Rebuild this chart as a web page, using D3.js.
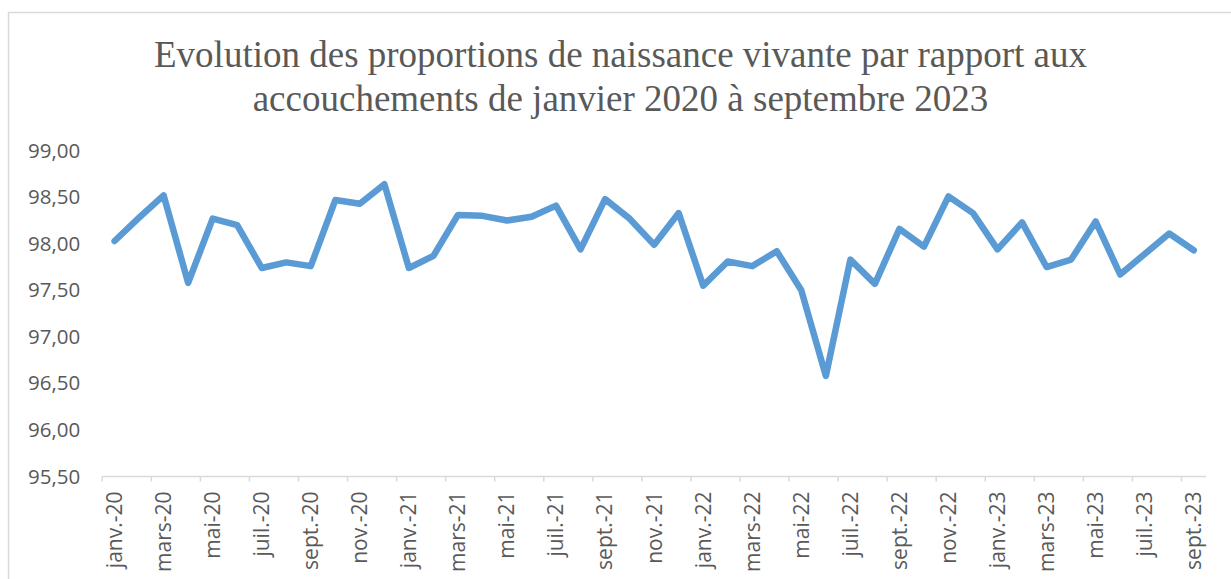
<!DOCTYPE html>
<html>
<head>
<meta charset="utf-8">
<script src="https://cdn.jsdelivr.net/npm/d3@7"></script>
<style>
  body { margin: 0; background: #fff; }
</style>
</head>
<body>
<div id="chart"></div>
<script>
// mois affichés (un sur deux porte une étiquette)
const months = ["janv.", "févr.", "mars", "avr.", "mai", "juin", "juil.", "août", "sept.", "oct.", "nov.", "déc."];
const years = ["20", "21", "22", "23"];
const categories = [];
years.forEach(y => months.forEach(m => categories.push(`${m}-${y}`)));
categories.length = 45; // janv.-20 -> sept.-23

// proportions (%)
const values = [
    98.03, 98.28, 98.52, 97.58, 98.27, 98.20, 97.74, 97.80, 97.76, 98.47, 98.43, 98.64,
    97.74, 97.87, 98.31, 98.30, 98.25, 98.29, 98.41, 97.94, 98.48, 98.27, 97.99, 98.33,
    97.55, 97.81, 97.76, 97.92, 97.50, 96.58, 97.83, 97.57, 98.16, 97.97, 98.51, 98.33,
    97.94, 98.23, 97.75, 97.83, 98.24, 97.67, 97.89, 98.11, 97.93
];
const yTicks = [95.5, 96, 96.5, 97, 97.5, 98, 98.5, 99];
const titleLines = [
    "Evolution des proportions de naissance vivante par rapport aux",
    "accouchements de janvier 2020 à septembre 2023"
];

const width = 1231, height = 579;
const plotLeft = 102.3, plotRight = 1206, plotTop = 150.7, plotBottom = 476.5;
const textColor = "#595959";

const svg = d3.select("#chart").append("svg")
    .attr("width", width)
    .attr("height", height);

// cadre du graphique
svg.append("rect")
    .attr("x", 8.5).attr("y", 12.5)
    .attr("width", 1260).attr("height", 620)
    .attr("fill", "#fff")
    .attr("stroke", "#d9d9d9")
    .attr("stroke-width", 1.5);

// titre
svg.append("g").selectAll("text")
    .data(titleLines)
    .enter().append("text")
    .attr("x", 620.5)
    .attr("y", (d, i) => 67 + i * 43.5)
    .attr("text-anchor", "middle")
    .attr("font-family", "'Liberation Serif', 'Times New Roman', serif")
    .attr("font-size", 37)
    .attr("fill", textColor)
    .text(d => d);

const x = d3.scaleBand().domain(categories).range([plotLeft, plotRight]).padding(0);
const y = d3.scaleLinear().domain([95.5, 99]).range([plotBottom, plotTop]);

// axe Y (étiquettes seulement)
const yAxis = svg.append("g")
    .attr("transform", `translate(${plotLeft},0)`)
    .call(d3.axisLeft(y).tickValues(yTicks).tickSize(0).tickPadding(22)
        .tickFormat(d => d3.format(".2f")(d).replace(".", ",")));
yAxis.select(".domain").remove();
yAxis.selectAll("text")
    .attr("font-family", "'Open Sans', sans-serif")
    .attr("font-size", 20.5)
    .attr("fill", textColor);

// axe X
const xAxis = svg.append("g").attr("transform", `translate(0,${plotBottom})`);
xAxis.append("line")
    .attr("x1", plotLeft).attr("x2", plotRight)
    .attr("stroke", "#d9d9d9").attr("stroke-width", 1.5);

const tickIdx = d3.range(0, categories.length, 2);
xAxis.selectAll(".tick-mark")
    .data(tickIdx)
    .enter().append("line")
    .attr("class", "tick-mark")
    .attr("x1", i => x(categories[i])).attr("x2", i => x(categories[i]))
    .attr("y1", 0).attr("y2", 5)
    .attr("stroke", "#d9d9d9").attr("stroke-width", 1.5);

xAxis.selectAll(".tick-label")
    .data(tickIdx)
    .enter().append("text")
    .attr("class", "tick-label")
    .attr("transform", i => `translate(${x(categories[i]) + x.bandwidth() / 2},15) rotate(-90)`)
    .attr("dy", "0.35em")
    .attr("text-anchor", "end")
    .attr("font-family", "'Open Sans', sans-serif")
    .attr("font-size", 21)
    .attr("fill", textColor)
    .text(i => categories[i]);

// courbe
const line = d3.line()
    .x((d, i) => x(categories[i]) + x.bandwidth() / 2)
    .y(d => y(d));

svg.append("path")
    .datum(values)
    .attr("d", line)
    .attr("fill", "none")
    .attr("stroke", "#5b9bd5")
    .attr("stroke-width", 6.5)
    .attr("stroke-linejoin", "round")
    .attr("stroke-linecap", "round");
</script>
</body>
</html>
